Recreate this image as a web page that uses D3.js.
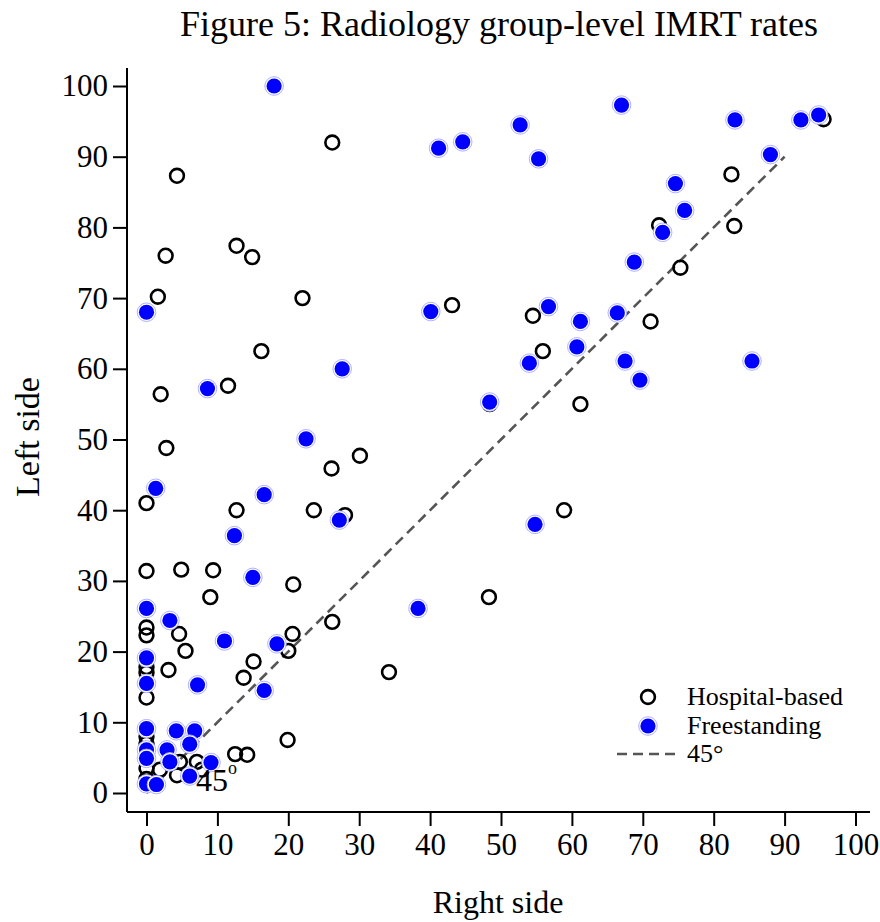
<!DOCTYPE html>
<html>
<head>
<meta charset="utf-8">
<script src="https://cdn.jsdelivr.net/npm/d3@7"></script>
<style>
  html, body { margin: 0; padding: 0; background: #fff; }
  svg { display: block; font-family: "Liberation Serif", "Times New Roman", serif; }
</style>
</head>
<body>
<svg id="chart" width="880" height="922"></svg>
<script>
// ---- Data ----
const title = "Figure 5: Radiology group-level IMRT rates";
const xLabel = "Right side";
const yLabel = "Left side";
const tickValues = [0, 10, 20, 30, 40, 50, 60, 70, 80, 90, 100];
const seriesNames = ["Hospital-based", "Freestanding", "45°"];

// Hospital-based groups: [right side, left side]
const hospital = [
  [26.2,92.0],[4.3,87.3],[2.7,76.0],[12.7,77.4],[14.9,75.8],[1.6,70.2],[22.0,70.0],
  [43.1,69.0],[16.2,62.5],[11.5,57.6],[2.0,56.4],[2.8,48.8],[30.1,47.7],[26.1,45.9],
  [0,41.0],[12.7,40.0],[23.6,40.0],[28.0,39.3],[0,31.4],[4.9,31.6],[9.4,31.5],
  [20.7,29.5],[9.0,27.7],[48.3,27.7],[26.2,24.2],[20.6,22.5],[20.0,20.1],[0,23.4],
  [0,22.3],[4.6,22.5],[5.5,20.1],[0,17.8],[0,17.0],[3.1,17.4],[15.1,18.6],[13.7,16.3],
  [34.2,17.1],[0,13.5],[19.9,7.5],[12.5,5.5],[14.2,5.4],[58.9,40.0],[48.4,55.0],
  [61.2,55.0],[54.5,67.5],[55.9,62.5],[71.1,66.7],[75.3,74.3],[72.3,80.3],[82.9,80.2],
  [82.5,87.5],[95.5,95.3],[0,8.0],[0,7.0],[0,3.5],[0,2.0],[1.9,3.3],[4.7,4.4],
  [7.1,4.4],[4.3,2.5],[7.8,3.3]
];

// Freestanding groups: [right side, left side]
const freestanding = [
  [18.0,100],[0,68.0],[41.2,91.2],[44.6,92.1],[52.7,94.5],[55.3,89.7],[67.0,97.3],
  [83.0,95.2],[92.3,95.2],[94.8,95.9],[88.0,90.3],[74.6,86.2],[75.9,82.4],[72.8,79.3],
  [68.8,75.1],[40.1,68.1],[56.7,68.8],[61.2,66.7],[66.4,67.9],[60.7,63.1],[54.0,60.8],
  [67.5,61.1],[85.4,61.1],[69.6,58.4],[27.6,60.0],[8.6,57.2],[48.4,55.3],[22.5,50.1],
  [1.3,43.1],[16.6,42.2],[27.2,38.6],[54.8,38.0],[12.4,36.4],[15.0,30.5],[38.3,26.1],
  [0,26.1],[3.3,24.4],[11.0,21.5],[18.4,21.1],[0,19.1],[0,15.5],[7.2,15.3],[16.6,14.5],
  [0,9.1],[4.2,8.8],[6.8,8.8],[6.1,6.9],[0,6.1],[2.9,6.1],[0,4.9],[3.3,4.4],[9.1,4.3],
  [6.1,2.4],[0,1.3],[1.4,1.2]
];

// 45-degree reference line end points
const refLine = [[0, 0], [90, 90]];

// ---- Chart ----
const svg = d3.select("#chart");
const x = d3.scaleLinear().domain([0, 100]).range([146.5, 855.5]);
const y = d3.scaleLinear().domain([0, 100]).range([793, 86]);

// Title
svg.append("text").attr("x", 499).attr("y", 36)
  .attr("text-anchor", "middle").attr("font-size", 36).text(title);

// Axes
const xAxis = svg.append("g").attr("transform", "translate(0,812)")
  .call(d3.axisBottom(x).tickValues(tickValues).tickSize(14).tickPadding(7).tickFormat(d3.format("d")));
xAxis.select(".domain").attr("d", "M127,0H870").attr("stroke-width", 2);
xAxis.selectAll(".tick line").attr("stroke-width", 2);
xAxis.selectAll(".tick text").attr("font-size", 31).attr("font-family", "Liberation Serif").attr("fill", "#000");

const yAxis = svg.append("g").attr("transform", "translate(127,0)")
  .call(d3.axisLeft(y).tickValues(tickValues).tickSize(14).tickPadding(5).tickFormat(d3.format("d")));
yAxis.select(".domain").attr("d", "M0,68V812").attr("stroke-width", 2);
yAxis.selectAll(".tick line").attr("stroke-width", 2);
yAxis.selectAll(".tick text").attr("font-size", 31).attr("font-family", "Liberation Serif").attr("fill", "#000");

// Axis titles
svg.append("text").attr("x", 498).attr("y", 913)
  .attr("text-anchor", "middle").attr("font-size", 32).text(xLabel);
svg.append("text").attr("transform", "translate(39,437) rotate(-90)")
  .attr("text-anchor", "middle").attr("font-size", 34).text(yLabel);

// 45-degree line
const line = d3.line().x(d => x(d[0])).y(d => y(d[1]));
svg.append("path").datum(refLine).attr("d", line)
  .attr("fill", "none").attr("stroke", "#555").attr("stroke-width", 2.6)
  .attr("stroke-dasharray", "10,6");

// Hospital-based hollow circles
svg.append("g").selectAll("circle").data(hospital).join("circle")
  .attr("cx", d => x(d[0])).attr("cy", d => y(d[1])).attr("r", 6.9)
  .attr("fill", "none").attr("stroke", "#000").attr("stroke-width", 2.6);

// Freestanding filled circles
const fs = svg.append("g").selectAll("g").data(freestanding).join("g")
  .attr("transform", d => `translate(${x(d[0])},${y(d[1])})`);
fs.append("circle").attr("r", 9.3).attr("fill", "#fff").attr("stroke", "#a8a8ff").attr("stroke-width", 0.9);
fs.append("circle").attr("r", 7.6).attr("fill", "#0000ff");

// 45° label near origin
const lab = svg.append("text").attr("x", 196).attr("y", 791).attr("font-size", 32);
lab.append("tspan").text("45");
lab.append("tspan").attr("font-size", 18).attr("dy", -17).text("o");

// Legend
const lg = svg.append("g");
lg.append("circle").attr("cx", 648).attr("cy", 697).attr("r", 6.9)
  .attr("fill", "none").attr("stroke", "#000").attr("stroke-width", 2.6);
lg.append("circle").attr("cx", 648).attr("cy", 726).attr("r", 9.3)
  .attr("fill", "#fff").attr("stroke", "#a8a8ff").attr("stroke-width", 0.9);
lg.append("circle").attr("cx", 648).attr("cy", 726).attr("r", 7.6).attr("fill", "#0000ff");
lg.append("line").attr("x1", 617).attr("x2", 679).attr("y1", 754).attr("y2", 754)
  .attr("stroke", "#555").attr("stroke-width", 2.6).attr("stroke-dasharray", "10,6");
seriesNames.forEach((n, i) => {
  lg.append("text").attr("x", 687).attr("y", 705 + i * 28.5).attr("font-size", 26).text(n);
});
</script>
</body>
</html>
